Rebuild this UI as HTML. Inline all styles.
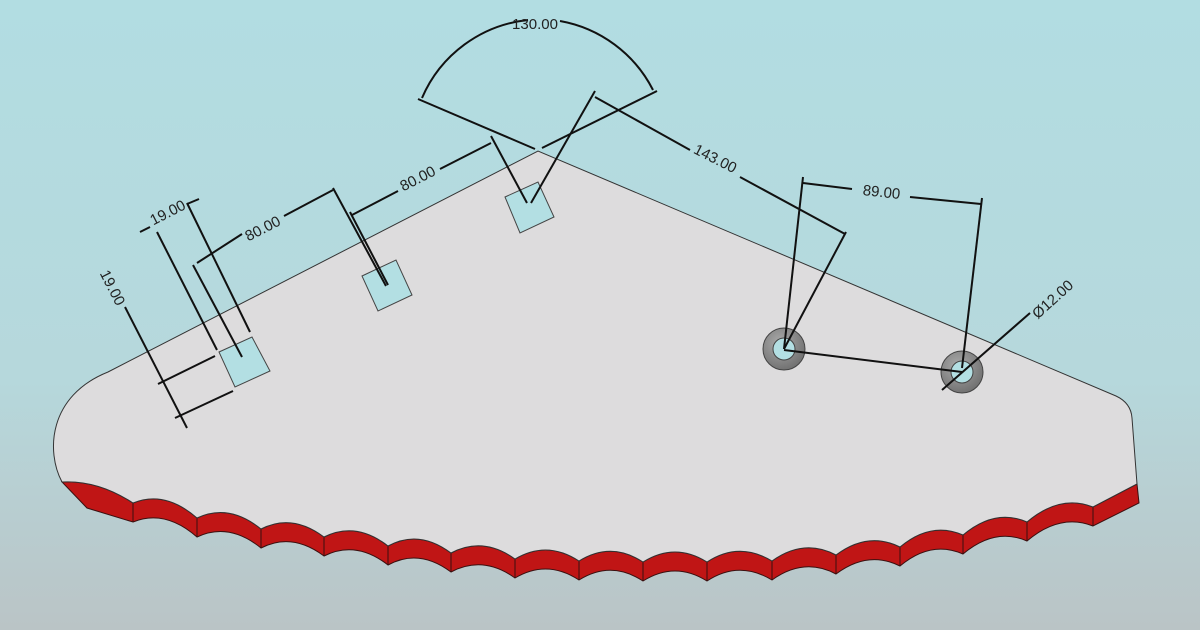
<!DOCTYPE html>
<html><head><meta charset="utf-8"><style>
html,body{margin:0;padding:0;width:1200px;height:630px;overflow:hidden}
svg{display:block}
text{font-family:"Liberation Sans",sans-serif;font-size:15px;fill:#222}
</style></head><body>
<svg width="1200" height="630" viewBox="0 0 1200 630" xmlns="http://www.w3.org/2000/svg">
<defs>
<linearGradient id="bg" x1="0" y1="0" x2="0" y2="1">
<stop offset="0" stop-color="#b2dde2"/><stop offset="0.6" stop-color="#b6d8dc"/><stop offset="1" stop-color="#bac4c6"/>
</linearGradient>
<radialGradient id="ring" cx="0.4" cy="0.35" r="0.7"><stop offset="0" stop-color="#aaa"/><stop offset="1" stop-color="#6e6e6e"/></radialGradient>
</defs>
<rect width="1200" height="630" fill="url(#bg)"/>
<!-- red band -->
<path d="M62,482 Q98,480 133,503 Q165,490 197,518 Q229,503 261,529 Q292,513 324,537 Q356,521 388,546 Q419,529 451,553 Q483,536 515,559 Q547,540 579,561 Q611,541 643,562 Q675,542 707,562 Q739,541 772,561 Q804,538 836,555 Q868,531 900,547 Q931,521 963,535 Q995,508 1027,522 Q1060,494 1093,507 L1137,484 L1139,503 L1093,526 Q1060,513 1027,541 Q995,527 963,554 Q931,540 900,566 Q868,550 836,574 Q804,557 772,580 Q739,560 707,581 Q675,561 643,581 Q611,560 579,580 Q547,559 515,578 Q483,555 451,572 Q419,548 388,565 Q356,540 324,556 Q292,532 261,548 Q229,522 197,537 Q165,509 133,522 L87,508 Z" fill="#c01515" stroke="#3a1010" stroke-width="1"/>
<g stroke="#3a1010" stroke-width="1">
<line x1="133" y1="503" x2="133" y2="522"/><line x1="197" y1="518" x2="197" y2="537"/><line x1="261" y1="529" x2="261" y2="548"/><line x1="324" y1="537" x2="324" y2="556"/><line x1="388" y1="546" x2="388" y2="565"/><line x1="451" y1="553" x2="451" y2="572"/><line x1="515" y1="559" x2="515" y2="578"/><line x1="579" y1="561" x2="579" y2="580"/><line x1="643" y1="562" x2="643" y2="581"/><line x1="707" y1="562" x2="707" y2="581"/><line x1="772" y1="561" x2="772" y2="580"/><line x1="836" y1="555" x2="836" y2="574"/><line x1="900" y1="547" x2="900" y2="566"/><line x1="963" y1="535" x2="963" y2="554"/><line x1="1027" y1="522" x2="1027" y2="541"/><line x1="1093" y1="507" x2="1093" y2="526"/>
</g>
<!-- face -->
<path d="M62,482 C46,452 48,396 108,372 L538,151 L1116,396 Q1131,403 1132,418 L1137,484 L1093,507 Q1060,494 1027,522 Q995,508 963,535 Q931,521 900,547 Q868,531 836,555 Q804,538 772,561 Q739,541 707,562 Q675,542 643,562 Q611,541 579,561 Q547,540 515,559 Q483,536 451,553 Q419,529 388,546 Q356,521 324,537 Q292,513 261,529 Q229,503 197,518 Q165,490 133,503 Q98,480 62,482 Z" fill="#dddcdd" stroke="#333" stroke-width="1"/>
<!-- squares -->
<g fill="#b3dfe3" stroke="#444" stroke-width="1">
<polygon points="219,352 252,337 270,371 235,387"/>
<polygon points="362,276 396,260 412,295 378,311"/>
<polygon points="505,197 538,182 554,217 520,233"/>
</g>
<!-- holes -->
<circle cx="784" cy="349" r="21" fill="url(#ring)" stroke="#444"/>
<circle cx="784" cy="349" r="11" fill="#b3dfe3" stroke="#444"/>
<circle cx="962" cy="372" r="21" fill="url(#ring)" stroke="#444"/>
<circle cx="962" cy="372" r="11" fill="#b3dfe3" stroke="#444"/>
<!-- dimension lines -->
<g stroke="#111" stroke-width="2" fill="none">
<path d="M422,98 A130,130 0 0 1 528,20"/>
<path d="M560,21 A130,130 0 0 1 653,90"/>
<line x1="418" y1="99" x2="535" y2="149"/>
<line x1="542" y1="148" x2="657" y2="91"/>
<line x1="527" y1="203" x2="491" y2="136"/>
<line x1="531" y1="203" x2="595" y2="91"/>
<line x1="491" y1="143" x2="440" y2="169"/>
<line x1="398" y1="191" x2="352" y2="215"/>
<line x1="386" y1="286" x2="333" y2="188"/>
<line x1="350" y1="212" x2="388" y2="285"/>
<line x1="333" y1="190" x2="284" y2="216"/>
<line x1="242" y1="234" x2="197" y2="263"/>
<line x1="242" y1="357" x2="193" y2="265"/>
<line x1="157" y1="232" x2="217" y2="350"/>
<line x1="187" y1="203" x2="250" y2="332"/>
<line x1="140" y1="232" x2="150" y2="227"/>
<line x1="187" y1="204" x2="199" y2="199"/>
<line x1="125" y1="307" x2="187" y2="428"/>
<line x1="158" y1="384" x2="215" y2="356"/>
<line x1="175" y1="418" x2="233" y2="391"/>
<line x1="595" y1="97" x2="690" y2="150"/>
<line x1="740" y1="177" x2="845" y2="234"/>
<line x1="784" y1="349" x2="846" y2="232"/>
<line x1="784" y1="349" x2="803" y2="177"/>
<line x1="803" y1="183" x2="852" y2="189"/>
<line x1="910" y1="197" x2="981" y2="204"/>
<line x1="962" y1="368" x2="982" y2="198"/>
<line x1="784" y1="350" x2="962" y2="372"/>
<line x1="942" y1="390" x2="1030" y2="313"/>
</g>
<text x="535" y="29" text-anchor="middle">130.00</text>
<text transform="translate(420,183) rotate(-27)" text-anchor="middle">80.00</text>
<text transform="translate(265,233) rotate(-27)" text-anchor="middle">80.00</text>
<text transform="translate(170,217) rotate(-27)" text-anchor="middle">19.00</text>
<text transform="translate(108,290) rotate(63)" text-anchor="middle">19.00</text>
<text transform="translate(713,163) rotate(27)" text-anchor="middle">143.00</text>
<text transform="translate(881,197) rotate(6)" text-anchor="middle">89.00</text>
<text transform="translate(1056,303) rotate(-42)" text-anchor="middle">Ø12.00</text>
</svg>
</body></html>
